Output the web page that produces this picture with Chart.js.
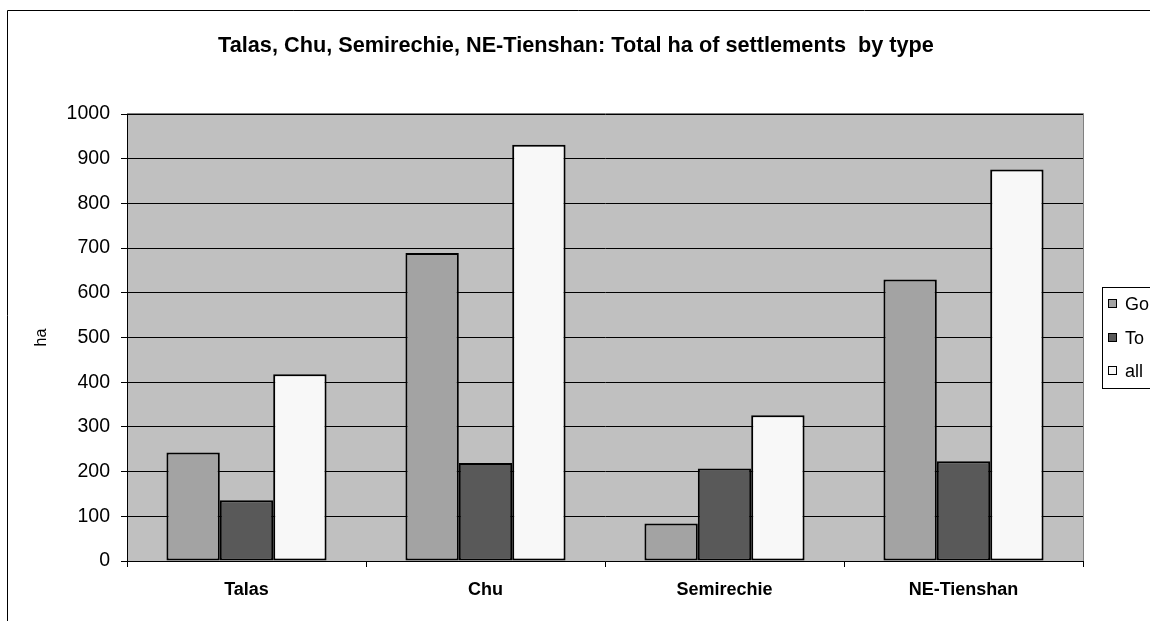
<!DOCTYPE html>
<html>
<head>
<meta charset="utf-8">
<script src="https://cdn.jsdelivr.net/npm/chart.js@4/dist/chart.umd.min.js"></script>
<style>
  html, body { margin: 0; padding: 0; background: #fff; }
  #wrap { width: 1150px; height: 621px; position: relative; }
</style>
</head>
<body>
<div id="wrap"><canvas id="c" width="1150" height="621"></canvas></div>
<script>
// Regions on the category axis
const categories = ['Talas', 'Chu', 'Semirechie', 'NE-Tienshan'];

// Series names shown in the legend
const seriesLabels = ['Go', 'To', 'all'];

// Total hectares per region, one array per settlement type
const goValues  = [243, 689, 84, 630];
const toValues  = [136, 219, 207, 223];
const allValues = [418, 931, 326, 876];

// Value axis ticks
const yTicks = [0, 100, 200, 300, 400, 500, 600, 700, 800, 900, 1000];

const chartTitle = 'Talas, Chu, Semirechie, NE-Tienshan: Total ha of settlements  by type';
const yTitle = 'ha';

const seriesColors = ['#a3a3a3', '#595959', '#f8f8f8'];
const seriesValues = [goValues, toValues, allValues];

const FONT = '"Liberation Sans", Arial, sans-serif';

// Frame, title, plot background, axis title and legend
const framePlugin = {
  id: 'frame',
  beforeDraw(chart) {
    const ctx = chart.ctx;
    const a = chart.chartArea;
    ctx.save();
    ctx.fillStyle = '#ffffff';
    ctx.fillRect(0, 0, chart.width, chart.height);
    // outer chart border
    ctx.strokeStyle = '#000';
    ctx.lineWidth = 1;
    ctx.beginPath();
    ctx.moveTo(7.5, chart.height);
    ctx.lineTo(7.5, 10.5);
    ctx.lineTo(chart.width, 10.5);
    ctx.stroke();
    // plot background
    ctx.fillStyle = '#c0c0c0';
    ctx.fillRect(a.left, a.top, a.right - a.left, a.bottom - a.top);
    ctx.restore();
  },
  afterDraw(chart) {
    const ctx = chart.ctx;
    const a = chart.chartArea;
    ctx.save();
    // plot area border (top and right)
    ctx.strokeStyle = '#808080';
    ctx.lineWidth = 1;
    ctx.beginPath();
    ctx.moveTo(a.left, a.top - 0.5);
    ctx.lineTo(a.right + 0.5, a.top - 0.5);
    ctx.lineTo(a.right + 0.5, a.bottom);
    ctx.stroke();
    // title
    ctx.fillStyle = '#000';
    ctx.font = 'bold 21.7px ' + FONT;
    ctx.textAlign = 'center';
    ctx.textBaseline = 'middle';
    ctx.fillText(chartTitle, 576, 46);
    // y axis title
    ctx.font = '16px ' + FONT;
    ctx.translate(42, (a.top + a.bottom) / 2);
    ctx.rotate(-Math.PI / 2);
    ctx.fillText(yTitle, 0, 0);
    ctx.restore();

    // legend
    ctx.save();
    const lx = 1102.5, ly = 287.5, lw = 60, lh = 101;
    ctx.fillStyle = '#fff';
    ctx.fillRect(lx, ly, lw, lh);
    ctx.strokeStyle = '#000';
    ctx.lineWidth = 1;
    ctx.strokeRect(lx, ly, lw, lh);
    ctx.font = '18px ' + FONT;
    ctx.textAlign = 'left';
    ctx.textBaseline = 'middle';
    const rowY = [304, 338, 371];
    chart.data.datasets.forEach((ds, i) => {
      const y = rowY[i];
      ctx.fillStyle = ds.backgroundColor;
      ctx.fillRect(1108.5, y - 4.5, 8, 8);
      ctx.strokeStyle = '#000';
      ctx.strokeRect(1108.5, y - 4.5, 8, 8);
      ctx.fillStyle = '#000';
      ctx.fillText(ds.label, 1125, y + 1);
    });
    ctx.restore();
  }
};

new Chart(document.getElementById('c'), {
  type: 'bar',
  data: {
    labels: categories,
    datasets: seriesLabels.map((label, i) => ({
      label: label,
      data: seriesValues[i],
      backgroundColor: seriesColors[i],
      borderColor: '#000',
      borderWidth: 2,
      borderSkipped: false,
      categoryPercentage: 0.67,
      barPercentage: 1.0
    }))
  },
  options: {
    responsive: false,
    animation: false,
    devicePixelRatio: 1,
    layout: { padding: { left: 0, right: 67, top: 114, bottom: 0 } },
    plugins: {
      legend: { display: false },
      title: { display: false },
      tooltip: { enabled: false }
    },
    scales: {
      x: {
        grid: {
          display: true,
          drawOnChartArea: false,
          drawTicks: true,
          tickLength: 6,
          tickColor: '#000',
          offset: true
        },
        border: { display: true, color: '#000', width: 1 },
        ticks: {
          color: '#000',
          font: { family: FONT, size: 18, weight: 'bold' },
          padding: 12,
          maxRotation: 0
        },
        afterFit(scale) { scale.height = 60; }
      },
      y: {
        min: 0,
        max: 1000,
        afterBuildTicks(scale) { scale.ticks = yTicks.map(v => ({ value: v })); },
        grid: {
          color: '#000',
          lineWidth: 1,
          drawTicks: true,
          tickLength: 6,
          tickColor: '#000'
        },
        border: { display: true, color: '#000', width: 1 },
        ticks: {
          color: '#000',
          font: { family: FONT, size: 19.5 },
          padding: 11,
          callback: (v) => String(v)
        },
        afterFit(scale) { scale.width = 127; }
      }
    }
  },
  plugins: [framePlugin]
});
</script>
</body>
</html>
